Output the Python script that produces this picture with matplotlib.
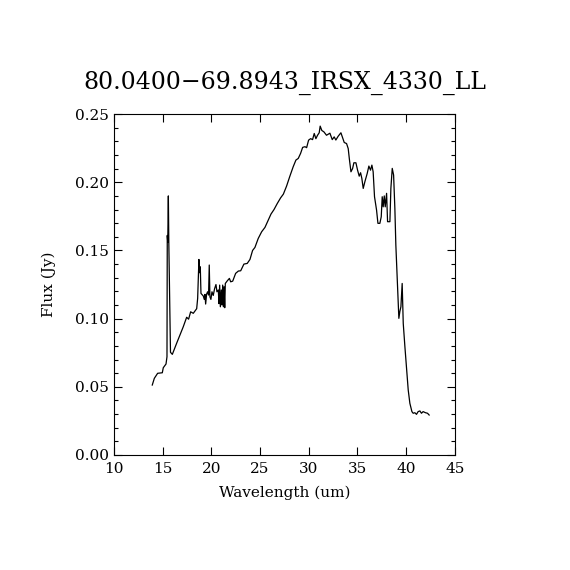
import matplotlib
matplotlib.use('Agg')
import matplotlib.pyplot as plt
from matplotlib.ticker import MultipleLocator

# spectrum
wave = [13.93, 14.14, 14.48, 14.96, 15.06, 15.34, 15.44, 15.47, 15.52, 15.58, 15.63, 15.75, 15.8,
        15.99, 16.19, 16.43, 16.77, 17.11, 17.46, 17.66, 17.87, 18.14, 18.49, 18.59, 18.72, 18.79,
        18.86, 18.93, 19.17, 19.27, 19.34, 19.41, 19.51, 19.61, 19.71, 19.78, 19.85, 19.95, 20.06,
        20.19, 20.33, 20.47, 20.57, 20.71, 20.78, 20.85, 20.92, 21.02, 21.09, 21.16, 21.23, 21.3,
        21.37, 21.43, 21.64, 21.85, 21.98, 22.19, 22.49, 22.77, 23.01, 23.34, 23.68, 23.96, 24.23,
        24.47, 24.81, 25.16, 25.5, 25.84, 26.12, 26.43, 26.77, 27.11, 27.39, 27.72, 28.06, 28.4,
        28.68, 28.92, 29.16, 29.37, 29.61, 29.78, 29.98, 30.19, 30.39, 30.56, 30.73, 30.9, 31.07,
        31.17, 31.34, 31.55, 31.82, 32.17, 32.41, 32.61, 32.78, 33.02, 33.3, 33.47, 33.64, 33.88,
        34.05, 34.16, 34.33, 34.5, 34.63, 34.84, 35.01, 35.18, 35.32, 35.45, 35.59, 35.76, 36.0,
        36.17, 36.34, 36.48, 36.61, 36.75, 36.96, 37.1, 37.3, 37.44, 37.54, 37.64, 37.75, 37.85,
        37.99, 38.09, 38.33, 38.43, 38.57, 38.71, 38.84, 38.94, 39.12, 39.25, 39.35, 39.46, 39.59,
        39.7, 39.87, 40.04, 40.21, 40.38, 40.59, 40.72, 40.89, 41.06, 41.23, 41.41, 41.57, 41.74,
        41.98, 42.19, 42.36]
flux = [0.0513, 0.0562, 0.0599, 0.0603, 0.064, 0.0667, 0.072, 0.161, 0.156, 0.19, 0.155, 0.0977, 0.0753,
        0.0738, 0.0775, 0.0819, 0.088, 0.094, 0.101, 0.0996, 0.105, 0.1039, 0.1073, 0.1149, 0.1434, 0.1337,
        0.138, 0.1185, 0.1166, 0.1141, 0.1178, 0.1107, 0.118, 0.1197, 0.1173, 0.1393, 0.116, 0.1141, 0.1197,
        0.117, 0.122, 0.125, 0.1197, 0.121, 0.111, 0.1246, 0.1087, 0.121, 0.11, 0.1246, 0.1087, 0.1234,
        0.108, 0.1258, 0.1278, 0.1295, 0.127, 0.1275, 0.1332, 0.1349, 0.1351, 0.14, 0.1405, 0.1434, 0.150,
        0.1522, 0.1588, 0.1637, 0.1669, 0.1723, 0.1767, 0.18, 0.1845, 0.1886, 0.1913, 0.1972, 0.2045, 0.2114,
        0.2163, 0.2175, 0.2212, 0.2256, 0.2261, 0.2254, 0.2309, 0.232, 0.2313, 0.2358, 0.232, 0.2345, 0.2363,
        0.2412, 0.238, 0.237, 0.2345, 0.236, 0.2313, 0.2333, 0.231, 0.2338, 0.2363, 0.2328, 0.2292, 0.2284,
        0.2247, 0.2175, 0.2077, 0.2101, 0.2143, 0.2143, 0.2089, 0.2045, 0.207, 0.2028, 0.1955, 0.2004, 0.2065,
        0.2119, 0.2089, 0.2126, 0.2077, 0.1894, 0.1796, 0.1699, 0.1699, 0.1747, 0.1894, 0.182, 0.19, 0.182,
        0.1919, 0.1711, 0.1711, 0.1955, 0.2102, 0.2053, 0.1808, 0.154, 0.1234, 0.1002, 0.1051, 0.1087, 0.1258,
        0.0965, 0.0794, 0.0636, 0.0477, 0.0379, 0.0318, 0.0306, 0.031, 0.0298, 0.0318, 0.0323, 0.0306, 0.0318,
        0.031, 0.0306, 0.0293]

title = '80.0400\u221269.8943_IRSX_4330_LL'

plt.rcParams['font.family'] = ['DejaVu Serif']

fig = plt.figure(figsize=(5.7, 5.7), dpi=100)
ax = fig.add_axes([0.2, 0.2018, 0.598, 0.598])
ax.plot(wave, flux, color='black', lw=0.9)

ax.set_xlim(10, 45)
ax.set_ylim(0, 0.25)
ax.xaxis.set_major_locator(MultipleLocator(5))
ax.yaxis.set_major_locator(MultipleLocator(0.05))
ax.yaxis.set_minor_locator(MultipleLocator(0.01))
ax.yaxis.set_major_formatter(plt.FormatStrFormatter('%.2f'))
ax.tick_params(which='both', direction='in', top=True, right=True, labelsize=11, width=0.8)
ax.tick_params(which='major', length=6)
ax.tick_params(which='minor', length=3)
ax.tick_params(axis='x', pad=5)
for s in ax.spines.values():
    s.set_linewidth(0.8)

ax.set_xlabel('Wavelength (um)', fontsize=11, labelpad=7)
ax.set_ylabel('Flux (Jy)', fontsize=11, labelpad=14)
fig.text(0.5, 0.855, title, ha='center', va='center', fontsize=17)

fig.savefig('out.png', dpi=100)
